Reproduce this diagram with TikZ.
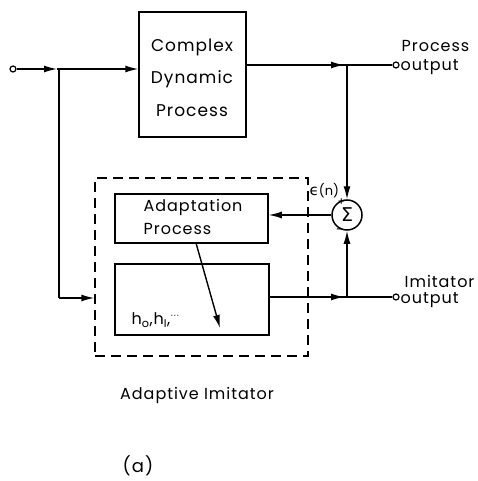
\documentclass[tikz,border=0pt]{standalone}
\usepackage{fontspec}
\setmainfont{Poppins}[LetterSpace=6]
\newfontfamily\dvfont{DejaVu Sans}
\usetikzlibrary{arrows.meta}
\begin{document}
\begin{tikzpicture}[x=1pt,y=-1pt,
  line width=1.4pt,
  lbl/.style={font=\fontsize{16}{16}\selectfont, inner sep=0pt},
  blbl/.style={font=\fontsize{17}{17}\selectfont, inner sep=0pt},
  blk/.style={draw, line width=1.5pt},
  arr/.style={-{Latex[length=13pt,width=7pt]}},
  term/.style={circle, draw, inner sep=0pt, minimum size=6pt, line width=1.2pt},
  dashbox/.style={draw, dashed, dash pattern=on 10pt off 6pt, line width=1.4pt}]
\useasboundingbox (0,0) rectangle (477,481);
% blocks
\node[blk, minimum width=107pt, minimum height=125pt] (cdp) at (192.5,74.5) {};
\node[blbl] (t1) at (192,47) {Complex};
\node[blbl] (t2) at (192,79) {Dynamic};
\node[blbl] (t3) at (192,111) {Process};
\node[blk, minimum width=153pt, minimum height=49pt] (adp) at (191.5,218.5) {};
\node[lbl, anchor=west] (a1) at (143,207) {Adaptation};
\node[lbl, anchor=west] (a2) at (143,229) {Process};
\node[blk, minimum width=154pt, minimum height=71pt] (flt) at (192,299.5) {};
\node[lbl, anchor=west] (h) at (131,320) {h$_{\mathrm{o}}$,h$_{\mathrm{I}}$,$^{\cdots}$};
\node[dashbox, minimum width=213pt, minimum height=178pt] (dbox) at (201.5,267) {};
% terminals
\node[term] (in) at (13,69) {};
\node[term] (pout) at (396,65) {};
\node[term] (iout) at (396,297) {};
\node[circle, draw, line width=1.5pt, minimum size=30pt, inner sep=0pt] (sig) at (347,215) {\dvfont\fontsize{19}{19}\selectfont Σ};
% junctions
\coordinate (j1) at (59,69);
\coordinate (j2) at (347,65);
\coordinate (j3) at (347,297);
\coordinate (jl) at (59,298);
% labels
\node[lbl, anchor=west] (po1) at (401,46) {Process};
\node[lbl, anchor=west] (po2) at (400,67) {output};
\node[lbl, anchor=west] (io1) at (404,281) {Imitator};
\node[lbl, anchor=west] (io2) at (400,300) {output};
\node[lbl, anchor=west] (eps) at (309,191) {{\dvfont\fontsize{15}{15}\selectfont ϵ}{\addfontfeature{LetterSpace=0}\fontsize{13}{13}\selectfont(n)}};
\node[lbl, font=\fontsize{11}{11}\selectfont] (plus) at (341.5,202) {+};
\node[lbl, font=\fontsize{14}{14}\selectfont] (minus) at (340,232) {-};
\node[lbl] (ai) at (197,395) {Adaptive Imitator};
\node[lbl, font=\fontsize{18}{18}\selectfont] (fa) at (138,466) {(a)};
% connectors
\draw[arr] (in) -- (57,69);
\draw (57,69) -- (j1);
\draw[arr] (j1) -- (cdp.west |- j1);
\draw (cdp.east |- j2) -- (j2);
\draw[arr] (cdp.east |- j2) -- (344,65);
\draw (j2) -- (pout);
\draw[arr] (j2) -- (sig.north);
\draw[arr] (sig.west) -- (adp.east |- sig.west);
\draw (flt.east |- j3) -- (j3);
\draw[arr] (flt.east |- j3) -- (344,297);
\draw (j3) -- (iout);
\draw[arr] (j3) -- (sig.south);
\draw (j1) -- (jl);
\draw[arr] (jl) -- (dbox.west |- jl);
\draw[arr] (196,243) -- (220,328);
\end{tikzpicture}
\end{document}
